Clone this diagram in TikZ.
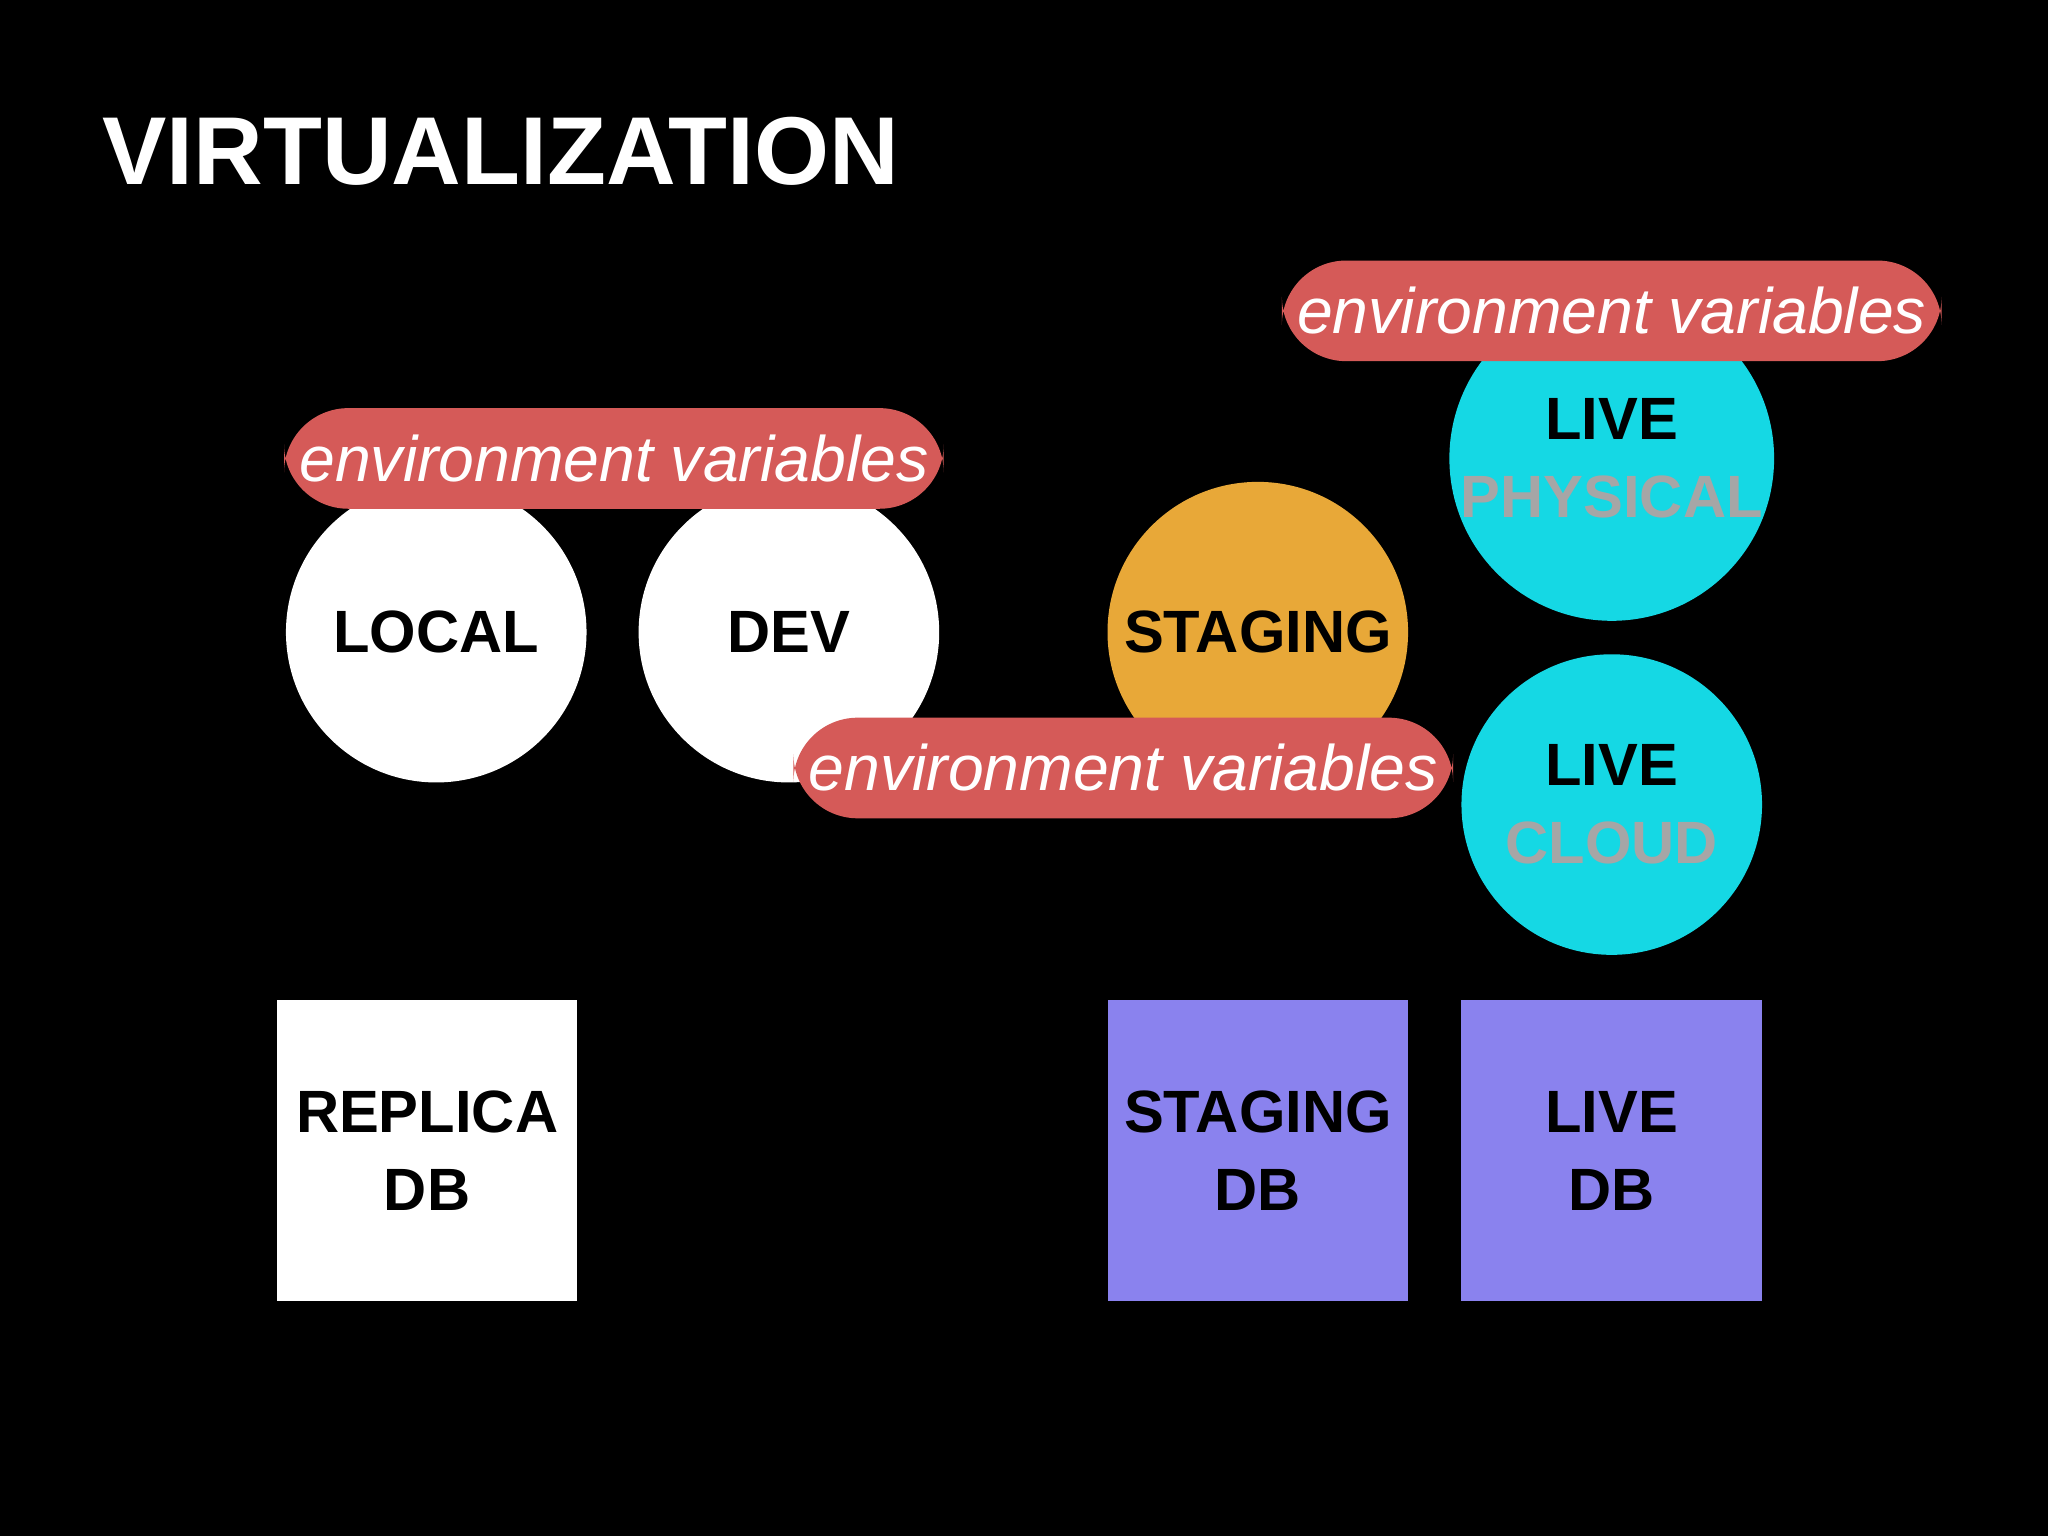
\documentclass[tikz,border=0pt]{standalone}
\usepackage{fontspec}
\setmainfont{Liberation Sans}
\usepackage{tikz}
\usetikzlibrary{positioning}
\definecolor{envred}{HTML}{D55A58}
\definecolor{stageorange}{HTML}{E8A838}
\definecolor{livecyan}{HTML}{15D8E4}
\definecolor{dbpurple}{HTML}{8A82EE}
\tikzset{
    env/.style={fill=envred, rounded corners=14pt, minimum width=4.68cm, minimum height=0.77cm,
        text=white, font=\fontsize{14}{16}\selectfont\itshape},
    stage/.style={circle, minimum size=2.3cm, inner sep=0pt, align=center,
        font=\fontsize{13}{17}\selectfont\bfseries},
    db/.style={minimum size=2.3cm, inner sep=0pt, align=center,
        font=\fontsize{13}{17}\selectfont\bfseries}
}

\begin{document}
\begin{tikzpicture}[x=0.01cm, y=-0.01cm]

    % Background
    \fill[black] (0,0) rectangle (1568,1176);
    \useasboundingbox (0,0) rectangle (1568,1176);

    % Title
    \node[anchor=west, text=white, font=\fontsize{21}{24}\selectfont\bfseries] (title) at (66,116) {VIRTUALIZATION};

    % Environments
    \node[stage, fill=white] (local) at (334,484) {LOCAL};
    \node[stage, fill=white] (dev) at (604,484) {DEV};
    \node[stage, fill=stageorange] (staging) at (963,484) {STAGING};
    \node[stage, fill=livecyan] (physical) at (1234,351) {LIVE\\\textcolor{gray!70}{PHYSICAL}};
    \node[stage, fill=livecyan] (cloud) at (1234,616) {LIVE\\\textcolor{gray!70}{CLOUD}};

    % Databases
    \node[db, fill=white] (replica) at (327,881) {REPLICA\\DB};
    \node[db, fill=dbpurple] (stagingdb) at (963,881) {STAGING\\DB};
    \node[db, fill=dbpurple] (livedb) at (1234,881) {LIVE\\DB};

    % Environment variables
    \node[env] (envlocal) at (470,351) {environment variables};
    \node[env] (envlive) at (1234,238) {environment variables};
    \node[env] (envstaging) at (860,588) {environment variables};

\end{tikzpicture}
\end{document}
